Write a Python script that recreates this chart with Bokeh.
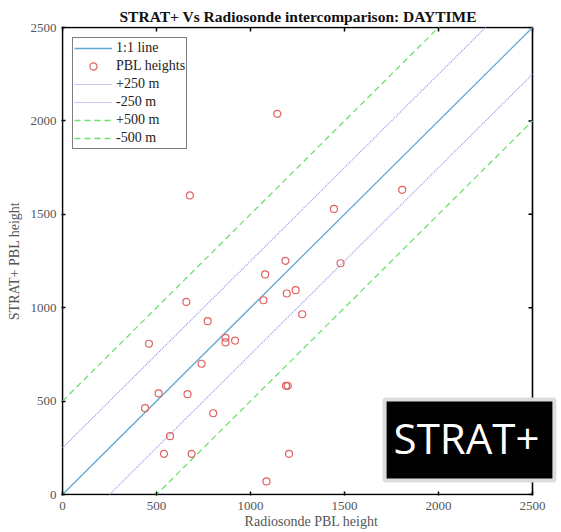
import math
from bokeh.plotting import figure
from bokeh.models import Label, Legend, LegendItem, FixedTicker, Range1d
from bokeh.embed import file_html
from bokeh.resources import INLINE

# Data
radiosonde = [1143, 1807, 678, 1444, 1186, 1479, 1078, 1069, 659, 1193, 1240, 1275,
              772, 460, 867, 867, 918, 740, 511, 665, 439, 1189, 1198, 802, 572,
              540, 687, 1205, 1085]
strat = [2038, 1631, 1601, 1529, 1251, 1238, 1178, 1040, 1031, 1076, 1094, 965,
         928, 807, 839, 814, 824, 700, 541, 537, 462, 582, 582, 435, 312,
         218, 218, 218, 70]
ref_x = [0, 2500]
offsets = [0, 250, -250, 500, -500]
ticks = [0, 500, 1000, 1500, 2000, 2500]

SERIF = "Liberation Serif"

# Frame is a bit wider than the axes box so the STRAT+ badge can overhang it
x_lo, x_hi = ticks[0], ticks[-1]
sx = 470 / (x_hi - x_lo)      # px per unit
sy = 467 / (x_hi - x_lo)
p = figure(width=561, height=532, output_backend="svg", toolbar_location=None,
           x_range=Range1d(x_lo - 1 / sx, x_hi + 29 / sx),
           y_range=Range1d(x_lo - 1 / sy, x_hi + 1 / sy),
           min_border_left=61, min_border_right=0, min_border_top=26, min_border_bottom=37,
           x_axis_label="Radiosonde PBL height", y_axis_label="STRAT+ PBL height")
p.title.text = "STRAT+ Vs Radiosonde intercomparison: DAYTIME"
p.title.text_font = SERIF
p.title.text_font_size = "15.5px"
p.title.text_font_style = "bold"
p.title.align = "left"
p.title.offset = 58
p.title.text_color = "#111111"
p.title.standoff = 4
p.grid.visible = False
p.outline_line_color = None
p.background_fill_color = "white"
p.border_fill_color = "white"

for ax in p.axis:
    ax.ticker = FixedTicker(ticks=ticks)
    ax.major_tick_in = 4
    ax.major_tick_out = 0
    ax.minor_tick_line_color = None
    ax.major_tick_line_color = "black"
    ax.major_tick_line_width = 1.5
    ax.axis_line_color = None
    ax.major_label_text_font = SERIF
    ax.major_label_text_font_size = "13px"
    ax.major_label_text_color = "#555555"
    ax.axis_label_text_font = SERIF
    ax.axis_label_text_font_size = "14px"
    ax.axis_label_text_font_style = "normal"
    ax.axis_label_text_color = "#555555"

p.xaxis[0].major_label_standoff = 6
p.xaxis[0].axis_label_standoff = 1
p.yaxis[0].major_label_standoff = 5
p.yaxis[0].axis_label_standoff = 6

blue = "#62a8d2"
lav = "#9090ee"
green = "#6fe06f"

# axes box and inward ticks on top / right
p.quad(left=[x_lo], right=[x_hi], bottom=[x_lo], top=[x_hi], fill_color=None,
       line_color="black", line_width=1.6)
p.ray(x=ticks, y=[x_hi] * len(ticks), length=4, length_units="screen",
      angle=-math.pi / 2, line_color="black", line_width=1.5)
p.ray(x=[x_hi] * len(ticks), y=ticks, length=4, length_units="screen",
      angle=math.pi, line_color="black", line_width=1.5)

r11 = p.line(ref_x, [v + offsets[0] for v in ref_x], line_color=blue, line_width=1.3)
rp250 = p.line(ref_x, [v + offsets[1] for v in ref_x], line_color=lav, line_width=1.1, line_dash="1 1")
rm250 = p.line(ref_x, [v + offsets[2] for v in ref_x], line_color=lav, line_width=1.1, line_dash="1 1")
rp500 = p.line(ref_x, [v + offsets[3] for v in ref_x], line_color=green, line_width=1.3, line_dash="6 4")
rm500 = p.line(ref_x, [v + offsets[4] for v in ref_x], line_color=green, line_width=1.3, line_dash="6 4")
pts = p.scatter(radiosonde, strat, marker="circle", size=7, fill_color=None,
                line_color="#e06262", line_width=1.2)

legend = Legend(items=[
    LegendItem(label="1:1 line", renderers=[r11]),
    LegendItem(label="PBL heights", renderers=[pts]),
    LegendItem(label="+250 m", renderers=[rp250]),
    LegendItem(label="-250 m", renderers=[rm250]),
    LegendItem(label="+500 m", renderers=[rp500]),
    LegendItem(label="-500 m", renderers=[rm500]),
], location="top_left")
legend.label_text_font = SERIF
legend.label_text_font_size = "14px"
legend.label_text_color = "#222222"
legend.border_line_color = "black"
legend.border_line_width = 1.5
legend.background_fill_alpha = 1
legend.glyph_width = 38
legend.glyph_height = 18
legend.label_height = 18
legend.label_standoff = 4
legend.spacing = 0
legend.padding = 1
legend.margin = 11
p.add_layout(legend)

badge = Label(x=408, y=55.5, x_units="screen", y_units="screen", text="STRAT+",
              text_font="Open Sans", text_font_size="42px", text_color="white",
              text_align="center", text_baseline="middle",
              background_fill_color="black", border_line_color="#dcdcdc",
              border_line_width=4, padding=(9, 15, 9, 15))
p.add_layout(badge)

open("out.html", "w").write(file_html(p, INLINE))
